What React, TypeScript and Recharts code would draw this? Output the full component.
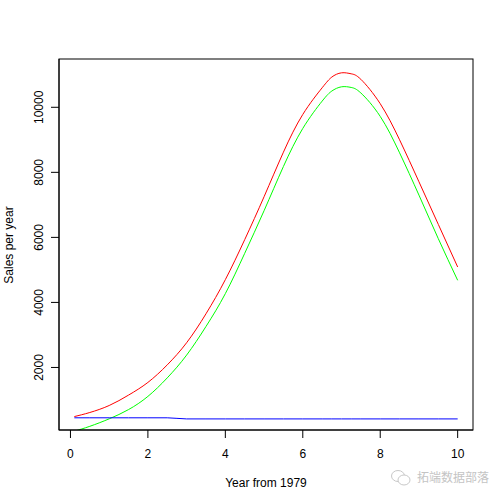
import { LineChart, Line, XAxis, YAxis } from 'recharts';

// years since 1979 at which the curves were read
const years = [0.1, 0.5, 1, 1.5, 2, 2.5, 3, 3.5, 4, 4.5, 5, 5.5, 6, 6.5, 6.75, 7, 7.25, 7.5, 8, 8.5, 9, 9.5, 10];
const salesRed = [490, 615, 830, 1150, 1540, 2080, 2760, 3650, 4700, 5930, 7250, 8620, 9780, 10600, 10930, 11060, 11030, 10860, 10110, 9000, 7710, 6400, 5090];
const salesGreen = [40, 190, 420, 705, 1110, 1680, 2380, 3260, 4270, 5510, 6820, 8180, 9350, 10190, 10500, 10630, 10610, 10440, 9720, 8600, 7300, 5960, 4680];
const salesBlue = [452, 452, 452, 452, 452, 452, 418, 418, 418, 418, 418, 418, 418, 418, 418, 418, 418, 418, 418, 418, 418, 418, 418];
const xTicks = [0, 2, 4, 6, 8, 10];
const yTicks = [2000, 4000, 6000, 8000, 10000];

const data = years.map((t, i) => ({ t, red: salesRed[i], green: salesGreen[i], blue: salesBlue[i] }));

const FONT = "'Liberation Sans', Arial, sans-serif";

const YTick = (props: any) => {
  const { x, y, payload } = props;
  const bx = x - 6;
  return (
    <text x={bx} y={y} transform={`rotate(-90 ${bx} ${y})`} textAnchor="middle" fontSize={12} fontFamily={FONT} fill="#000">
      {payload.value}
    </text>
  );
};

export default function App() {
  return (
    <div style={{ position: 'absolute', left: 0, top: 0, width: 504, height: 504, background: '#fff' }}>
      <LineChart width={504} height={504} data={data} margin={{ top: 59, right: 31, bottom: 0, left: 0 }}>
        <XAxis
          dataKey="t"
          type="number"
          domain={[-0.296, 10.396]}
          ticks={xTicks}
          allowDataOverflow
          height={74}
          tickSize={8}
          tickMargin={11}
          stroke="#000"
          tick={{ fill: '#000', fontSize: 12, fontFamily: FONT }}
          label={{
            content: () => (
              <text x={266} y={487} textAnchor="middle" fontSize={12} fontFamily={FONT} fill="#000">
                Year from 1979
              </text>
            ),
          }}
        />
        <YAxis
          type="number"
          domain={[77, 11485]}
          ticks={yTicks}
          allowDataOverflow
          width={59}
          tickSize={8}
          stroke="#000"
          tick={YTick}
          label={{
            content: () => (
              <text x={13} y={245} transform="rotate(-90 13 245)" textAnchor="middle" fontSize={12} fontFamily={FONT} fill="#000">
                Sales per year
              </text>
            ),
          }}
        />
        <Line type="natural" dataKey="red" stroke="#ff0000" strokeWidth={1} dot={false} isAnimationActive={false} />
        <Line type="natural" dataKey="green" stroke="#00ff00" strokeWidth={1} dot={false} isAnimationActive={false} />
        <Line type="monotone" dataKey="blue" stroke="#0000ff" strokeWidth={1} dot={false} isAnimationActive={false} />
      </LineChart>
      {/* plot frame, like R's box() */}
      <svg style={{ position: 'absolute', left: 0, top: 0, pointerEvents: 'none' }} width={504} height={504}>
        <rect x={59} y={59} width={414} height={371} fill="none" stroke="#000" strokeWidth={1} />
      </svg>
      <svg style={{ position: 'absolute', left: 390, top: 469 }} width={22} height={18}>
        <ellipse cx={8} cy={7} rx={6.5} ry={5.5} fill="none" stroke="#c8c8c8" strokeWidth={1} />
        <ellipse cx={14} cy={11} rx={6} ry={5} fill="#fff" stroke="#c8c8c8" strokeWidth={1} />
      </svg>
      <div
        style={{
          position: 'absolute',
          left: 417,
          top: 469,
          fontFamily: "'Noto Sans CJK SC', sans-serif",
          fontSize: 12,
          lineHeight: '16px',
          color: '#c4c4c4',
          whiteSpace: 'nowrap',
        }}
      >
        拓端数据部落
      </div>
    </div>
  );
}
